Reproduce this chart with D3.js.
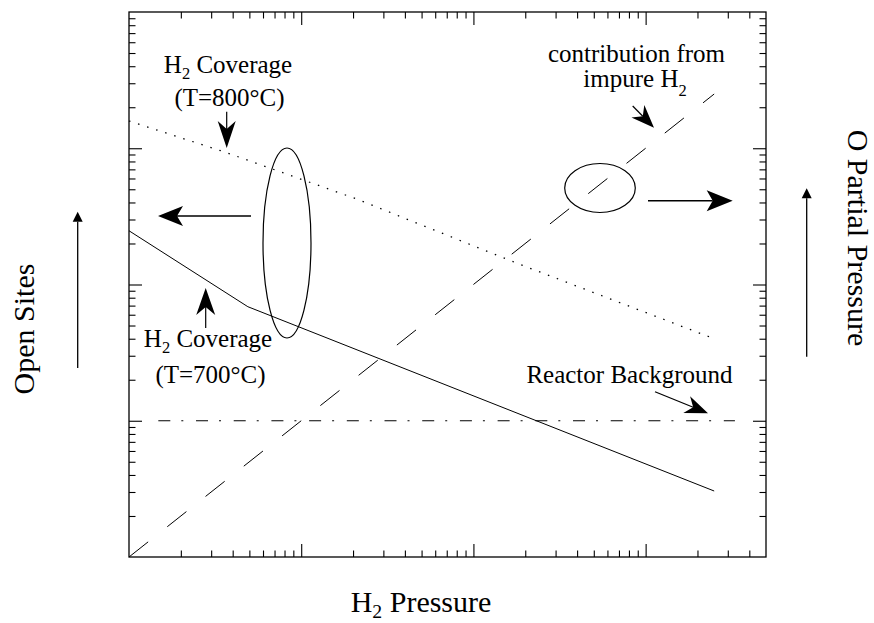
<!DOCTYPE html>
<html><head><meta charset="utf-8">
<script src="https://cdn.jsdelivr.net/npm/d3@7"></script>
<style>
body{margin:0;background:#fff}
svg text, svg tspan{font-family:'Liberation Serif','Times New Roman','DejaVu Serif',serif;fill:#000}
</style>
</head><body><svg id="c" width="874" height="623" font-family="Liberation Serif"></svg>
<script>
// ---- data ----
const xDomain = [1, 5000];
const yDomain = [1, 10000];
const coverage800X = [1, 3.6, 21, 177, 2500];
const coverage800Y = [1585, 938, 424, 144, 40];
const coverage700X = [1, 4.9, 2500];
const coverage700Y = [248, 68.7, 3.05];
const impureX = [1, 2500];
const impureY = [1, 2500];
const backgroundX = [1.48, 3300];
const backgroundY = [10, 10];

// ---- layout ----
const FONT = "Liberation Serif";
const M = {left:129, top:12, right:766, bottom:557};
const svg = d3.select("#c");
const x = d3.scaleLog().domain(xDomain).range([M.left, M.right]);
const y = d3.scaleLog().domain(yDomain).range([M.bottom, M.top]);

const isMajor = v => Math.abs(Math.log10(v) - Math.round(Math.log10(v))) < 1e-9;
const xt = x.ticks().filter(v => v > xDomain[0] && v < xDomain[1]);
const yt = y.ticks().filter(v => v > yDomain[0] && v < yDomain[1]);
const MAJ = 13, MIN = 6.5;

function addAxis(gen, scale, ticks, tr) {
  [[ticks.filter(isMajor), MAJ], [ticks.filter(v => !isMajor(v)), MIN]].forEach(([tv, len]) => {
    const g = svg.append("g").attr("transform", tr)
      .call(gen(scale).tickValues(tv).tickSize(-len).tickSizeOuter(0).tickFormat(""));
    g.select(".domain").remove();
    g.selectAll("text").remove();
    g.selectAll("line").attr("stroke", "#000").attr("stroke-width", 1.1);
  });
}
addAxis(d3.axisBottom, x, xt, `translate(0,${M.bottom})`);
addAxis(d3.axisTop, x, xt, `translate(0,${M.top})`);
addAxis(d3.axisLeft, y, yt, `translate(${M.left},0)`);
addAxis(d3.axisRight, y, yt, `translate(${M.right},0)`);

svg.append("rect").attr("x", M.left).attr("y", M.top)
  .attr("width", M.right - M.left).attr("height", M.bottom - M.top)
  .attr("fill", "none").attr("stroke", "#000").attr("stroke-width", 1.3);

const line = d3.line().x(d => x(d[0])).y(d => y(d[1]));
const series = [
  {xs: coverage800X, ys: coverage800Y, dash: "1.5,8", w: 1.3},
  {xs: coverage700X, ys: coverage700Y, dash: null, w: 1},
  {xs: impureX, ys: impureY, dash: "24.4,24.4", w: 1},
  {xs: backgroundX, ys: backgroundY, dash: "12,11,2,12.7", w: 1}
];
series.forEach(s => {
  svg.append("path").datum(s.xs.map((v, i) => [v, s.ys[i]]))
    .attr("d", line).attr("fill", "none").attr("stroke", "#000")
    .attr("stroke-width", s.w).attr("stroke-dasharray", s.dash);
});

// ---- annotations ----
function arrow(x1, y1, x2, y2, len, hw, notch, sw) {
  const dx = x2 - x1, dy = y2 - y1, L = Math.hypot(dx, dy);
  const ux = dx / L, uy = dy / L, px = -uy, py = ux;
  const bx = x2 - ux * len, by = y2 - uy * len;
  const nx = x2 - ux * (len - notch), ny = y2 - uy * (len - notch);
  svg.append("line").attr("x1", x1).attr("y1", y1).attr("x2", nx).attr("y2", ny)
    .attr("stroke", "#000").attr("stroke-width", sw || 1.2);
  svg.append("path").attr("d",
    `M${x2},${y2}L${bx + px * hw},${by + py * hw}L${nx},${ny}L${bx - px * hw},${by - py * hw}Z`)
    .attr("fill", "#000");
}
arrow(226.7, 111.7, 226.7, 148, 27, 9, 8);
arrow(205.7, 328, 205.7, 288, 27, 9.5, 8);
arrow(251, 216, 158, 216, 25, 10, 6, 1.5);
arrow(648, 200.7, 732.7, 200.7, 26, 10.5, 6, 1.5);
arrow(632.7, 106, 654, 127.7, 23, 9, 7);
arrow(655, 391.7, 708, 413.3, 23, 9, 7);
arrow(77.7, 368, 77.7, 211.7, 10, 5, 0, 1.3);
arrow(806.7, 356.7, 806.7, 188.3, 10, 5, 0, 1.3);

svg.append("ellipse").attr("cx", 287).attr("cy", 243).attr("rx", 24).attr("ry", 95)
  .attr("fill", "none").attr("stroke", "#000").attr("stroke-width", 1.2);
svg.append("ellipse").attr("cx", 600).attr("cy", 188).attr("rx", 35.3).attr("ry", 24.5)
  .attr("fill", "none").attr("stroke", "#000").attr("stroke-width", 1.2);

function mk(cx, by, fs) {
  return svg.append("text").attr("x", cx).attr("y", by)
    .attr("text-anchor", "middle").attr("font-family", FONT)
    .attr("font-size", fs).attr("fill", "#000");
}
function subText(cx, by, pre, sub, post, fs, sdy) {
  const t = mk(cx, by, fs);
  t.append("tspan").text(pre);
  t.append("tspan").attr("font-size", fs * 0.66).attr("dy", sdy).text(sub);
  if (post) t.append("tspan").attr("dy", -sdy).text(post);
  return t;
}
function plain(cx, by, s, fs) { mk(cx, by, fs).text(s); }

subText(228, 73, "H", "2", " Coverage", 25, 6);
plain(229.5, 106, "(T=800°C)", 25);
subText(208, 347, "H", "2", " Coverage", 25, 6);
plain(210.5, 383, "(T=700°C)", 25);
plain(636.5, 61.5, "contribution from", 25);
subText(635, 87, "impure H", "2", null, 25, 9);
plain(629.5, 383, "Reactor Background", 25);
subText(421, 612, "H", "2", " Pressure", 30, 5.5);

svg.append("text").attr("transform", "translate(34,329) rotate(-90)")
  .attr("font-family", FONT).attr("text-anchor", "middle").attr("font-size", 30).text("Open Sites");
svg.append("text").attr("transform", "translate(848,238) rotate(90)")
  .attr("font-family", FONT).attr("text-anchor", "middle").attr("font-size", 30).text("O Partial Pressure");
</script>
</body></html>
